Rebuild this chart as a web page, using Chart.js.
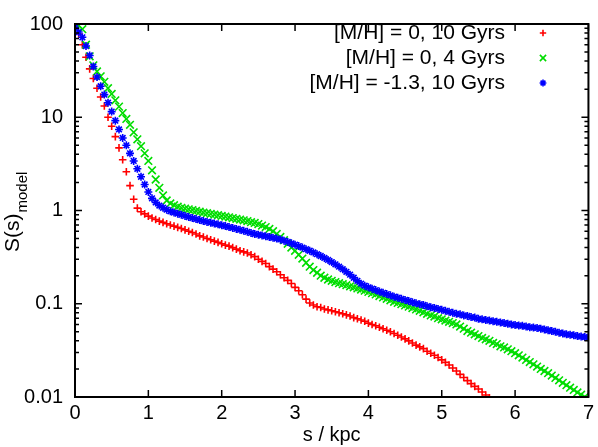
<!DOCTYPE html>
<html><head><meta charset="utf-8">
<script src="https://cdn.jsdelivr.net/npm/chart.js@4/dist/chart.umd.min.js"></script>
<style>html,body{margin:0;padding:0;background:#fff;}</style>
</head><body>
<canvas id="c" width="598" height="447"></canvas>
<script>
// ---- data ----
const sKpc = [0,0.05,0.1,0.15,0.2,0.25,0.3,0.35,0.4,0.45,0.5,0.55,0.6,0.65,0.7,0.75,0.8,0.85,0.9,0.95,
1,1.05,1.1,1.15,1.2,1.25,1.3,1.35,1.4,1.45,1.5,1.55,1.6,1.65,1.7,1.75,1.8,1.85,1.9,1.95,
2,2.05,2.1,2.15,2.2,2.25,2.3,2.35,2.4,2.45,2.5,2.55,2.6,2.65,2.7,2.75,2.8,2.85,2.9,2.95,
3,3.05,3.1,3.15,3.2,3.25,3.3,3.35,3.4,3.45,3.5,3.55,3.6,3.65,3.7,3.75,3.8,3.85,3.9,3.95,
4,4.05,4.1,4.15,4.2,4.25,4.3,4.35,4.4,4.45,4.5,4.55,4.6,4.65,4.7,4.75,4.8,4.85,4.9,4.95,
5,5.05,5.1,5.15,5.2,5.25,5.3,5.35,5.4,5.45,5.5,5.55,5.6,5.65,5.7,5.75,5.8,5.85,5.9,5.95,
6,6.05,6.1,6.15,6.2,6.25,6.3,6.35,6.4,6.45,6.5,6.55,6.6,6.65,6.7,6.75,6.8,6.85,6.9,6.95,7];

const seriesLabels = ["[M/H] = 0, 10 Gyrs", "[M/H] = 0, 4 Gyrs", "[M/H] = -1.3, 10 Gyrs"];

const metal0_10Gyr = [95,78,60,44,33,26,20.5,16.5,13.2,10.0,
8.0,6.2,4.7,3.5,2.6,1.85,1.32,1.06,0.97,0.92,
0.87,0.83,0.80,0.77,0.745,0.72,0.70,0.68,0.66,0.64,
0.62,0.60,0.58,0.56,0.535,0.52,0.50,0.485,0.47,0.455,
0.44,0.425,0.415,0.40,0.385,0.37,0.36,0.35,0.335,0.32,
0.30,0.285,0.27,0.25,0.235,0.22,0.205,0.19,0.178,0.165,
0.15,0.138,0.125,0.112,0.102,0.097,0.093,0.091,0.088,0.086,
0.084,0.082,0.080,0.078,0.076,0.074,0.071,0.069,0.067,0.065,
0.062,0.060,0.058,0.056,0.054,0.052,0.050,0.048,0.046,0.044,
0.042,0.040,0.038,0.036,0.0345,0.033,0.031,0.0295,0.028,0.0265,
0.025,0.0235,0.022,0.0205,0.019,0.0175,0.0162,0.015,0.0139,0.0130,
0.0122,0.0113,0.0105,0.0098];

const metal0_4Gyr = [100,97,88,60,45,36,31,27.5,24,20.5,
17.8,15.2,13.0,11.1,9.6,8.3,6.9,5.8,4.9,4.1,
3.4,2.7,2.15,1.75,1.45,1.28,1.19,1.14,1.10,1.07,
1.05,1.03,1.01,0.99,0.97,0.95,0.935,0.92,0.905,0.89,
0.875,0.86,0.845,0.83,0.815,0.80,0.785,0.77,0.75,0.735,
0.715,0.69,0.665,0.635,0.60,0.56,0.52,0.48,0.44,0.40,
0.37,0.335,0.305,0.275,0.25,0.23,0.215,0.20,0.19,0.182,
0.176,0.171,0.166,0.162,0.158,0.154,0.150,0.146,0.142,0.138,
0.134,0.130,0.126,0.121,0.117,0.113,0.109,0.105,0.102,0.099,
0.096,0.093,0.090,0.087,0.084,0.081,0.078,0.075,0.073,0.070,
0.068,0.066,0.064,0.062,0.060,0.057,0.054,0.051,0.049,0.047,
0.045,0.043,0.0415,0.040,0.038,0.037,0.035,0.034,0.0325,0.031,
0.0295,0.028,0.0265,0.025,0.0237,0.0224,0.0212,0.020,0.019,0.018,
0.017,0.016,0.0151,0.0142,0.0134,0.0126,0.0119,0.0112,0.0106,0.0100,
0.0095];

const metalM13_10Gyr = [92,82,72,58,46,35,27,21.5,17.5,14.3,
11.5,9.2,7.4,6.0,5.0,4.1,3.4,2.8,2.3,1.9,
1.58,1.35,1.22,1.13,1.07,1.02,0.98,0.95,0.925,0.90,
0.875,0.85,0.83,0.81,0.79,0.77,0.755,0.74,0.725,0.71,
0.695,0.68,0.665,0.65,0.635,0.62,0.605,0.59,0.575,0.56,
0.55,0.54,0.53,0.52,0.51,0.50,0.49,0.475,0.46,0.445,
0.43,0.415,0.40,0.385,0.37,0.355,0.34,0.325,0.31,0.295,
0.28,0.265,0.25,0.235,0.22,0.205,0.19,0.176,0.164,0.156,
0.150,0.145,0.140,0.135,0.131,0.127,0.123,0.119,0.116,0.113,
0.110,0.107,0.104,0.101,0.099,0.097,0.094,0.092,0.090,0.088,
0.086,0.084,0.082,0.080,0.078,0.077,0.075,0.074,0.072,0.071,
0.069,0.068,0.067,0.066,0.065,0.064,0.063,0.062,0.061,0.060,
0.059,0.0585,0.058,0.057,0.056,0.0555,0.055,0.054,0.053,0.052,
0.051,0.050,0.049,0.048,0.047,0.0465,0.046,0.045,0.0445,0.044,
0.0435];

const xTickValues = [0,1,2,3,4,5,6,7];
const yTickValues = [0.01,0.1,1,10,100];
const yTickLabels = ["0.01","0.1","1","10","100"];

// ---- chart ----
const FONT = '"Liberation Sans", Arial, Helvetica, sans-serif';
function pts(ys){ return ys.map((v,i)=>({x:sKpc[i], y:v})); }

const deco = {
  id: 'deco',
  afterDraw(chart){
    const {ctx, chartArea:a, scales:{x, y}} = chart;
    ctx.save();
    ctx.strokeStyle = '#000';
    ctx.lineWidth = 1.5;
    ctx.beginPath();
    xTickValues.forEach(v=>{
      const px = x.getPixelForValue(v);
      ctx.moveTo(px, a.bottom); ctx.lineTo(px, a.bottom-7);
      ctx.moveTo(px, a.top); ctx.lineTo(px, a.top+7);
    });
    for (let d=-2; d<=1; d++){
      for (let m=1; m<=9; m++){
        const v = m*Math.pow(10,d);
        const py = y.getPixelForValue(v);
        const len = m===1 ? 7 : 4;
        ctx.moveTo(a.left, py); ctx.lineTo(a.left+len, py);
        ctx.moveTo(a.right, py); ctx.lineTo(a.right-len, py);
      }
    }
    ctx.stroke();
    ctx.lineWidth = 2;
    ctx.strokeRect(a.left, a.top, a.width, a.height);

    // legend (text right-aligned, sample to the right)
    ctx.font = '21px ' + FONT;
    ctx.textAlign = 'right';
    ctx.textBaseline = 'middle';
    chart.data.datasets.forEach((ds,i)=>{
      const yy = 33 + 25*i;
      ctx.fillStyle = '#000';
      ctx.fillText(ds.label, 505, yy);
      ctx.strokeStyle = ds.borderColor;
      ctx.fillStyle = ds.backgroundColor;
      ctx.lineWidth = ds.borderWidth;
      Chart.helpers.drawPoint(ctx, {pointStyle: ds.pointStyle, radius: ds.legendRadius, borderWidth: ds.borderWidth, rotation: 0}, 543, yy);
    });

    // y-axis title with subscript
    ctx.fillStyle = '#000';
    ctx.translate(19, 252);
    ctx.rotate(-Math.PI/2);
    ctx.textAlign = 'left';
    ctx.textBaseline = 'alphabetic';
    ctx.font = '21px ' + FONT;
    ctx.fillText('S(s)', 0, 0);
    const w = ctx.measureText('S(s)').width;
    ctx.font = '15px ' + FONT;
    ctx.fillText('model', w + 1, 8);
    ctx.restore();
  }
};

new Chart(document.getElementById('c'), {
  type: 'scatter',
  data: {
    datasets: [
      {label: seriesLabels[0], data: pts(metal0_10Gyr), pointStyle: 'cross', pointRadius: 3.8, legendRadius: 3.2,
       borderColor: '#ff0000', backgroundColor: '#ff0000', borderWidth: 1.6, order: 2},
      {label: seriesLabels[1], data: pts(metal0_4Gyr), pointStyle: 'crossRot', pointRadius: 5.4, legendRadius: 4.4,
       borderColor: '#00dd00', backgroundColor: '#00dd00', borderWidth: 1.6, order: 1},
      {label: seriesLabels[2], data: pts(metalM13_10Gyr), pointStyle: 'star', pointRadius: 4.0, legendRadius: 3.4,
       borderColor: '#0000ff', backgroundColor: '#0000ff', borderWidth: 1.6, order: 0}
    ]
  },
  options: {
    responsive: false,
    animation: false,
    devicePixelRatio: 1,
    events: [],
    layout: {padding: {left: 0, right: 8, top: 10, bottom: 0}},
    plugins: {legend: {display: false}, tooltip: {enabled: false}},
    scales: {
      x: {
        type: 'linear', min: 0, max: 7, position: 'bottom',
        grid: {display: false, drawTicks: false}, border: {display: false},
        afterBuildTicks: s => { s.ticks = xTickValues.map(v=>({value:v})); },
        ticks: {color: '#000', font: {family: FONT, size: 20}, padding: 4, maxRotation: 0},
        title: {display: true, text: 's / kpc', color: '#000', font: {family: FONT, size: 20}, padding: {top: 0, bottom: 0}},
        afterFit: s => { s.height = 50; }
      },
      y: {
        type: 'logarithmic', min: 0.01, max: 100,
        grid: {display: false, drawTicks: false}, border: {display: false},
        afterBuildTicks: s => { s.ticks = yTickValues.map(v=>({value:v, major:true})); },
        ticks: {color: '#000', font: {family: FONT, size: 20}, padding: 12,
                callback: (v) => { const i = yTickValues.indexOf(v); return i>=0 ? yTickLabels[i] : ''; }},
        afterFit: s => { s.width = 75; }
      }
    }
  },
  plugins: [deco]
});
</script>
</body></html>
